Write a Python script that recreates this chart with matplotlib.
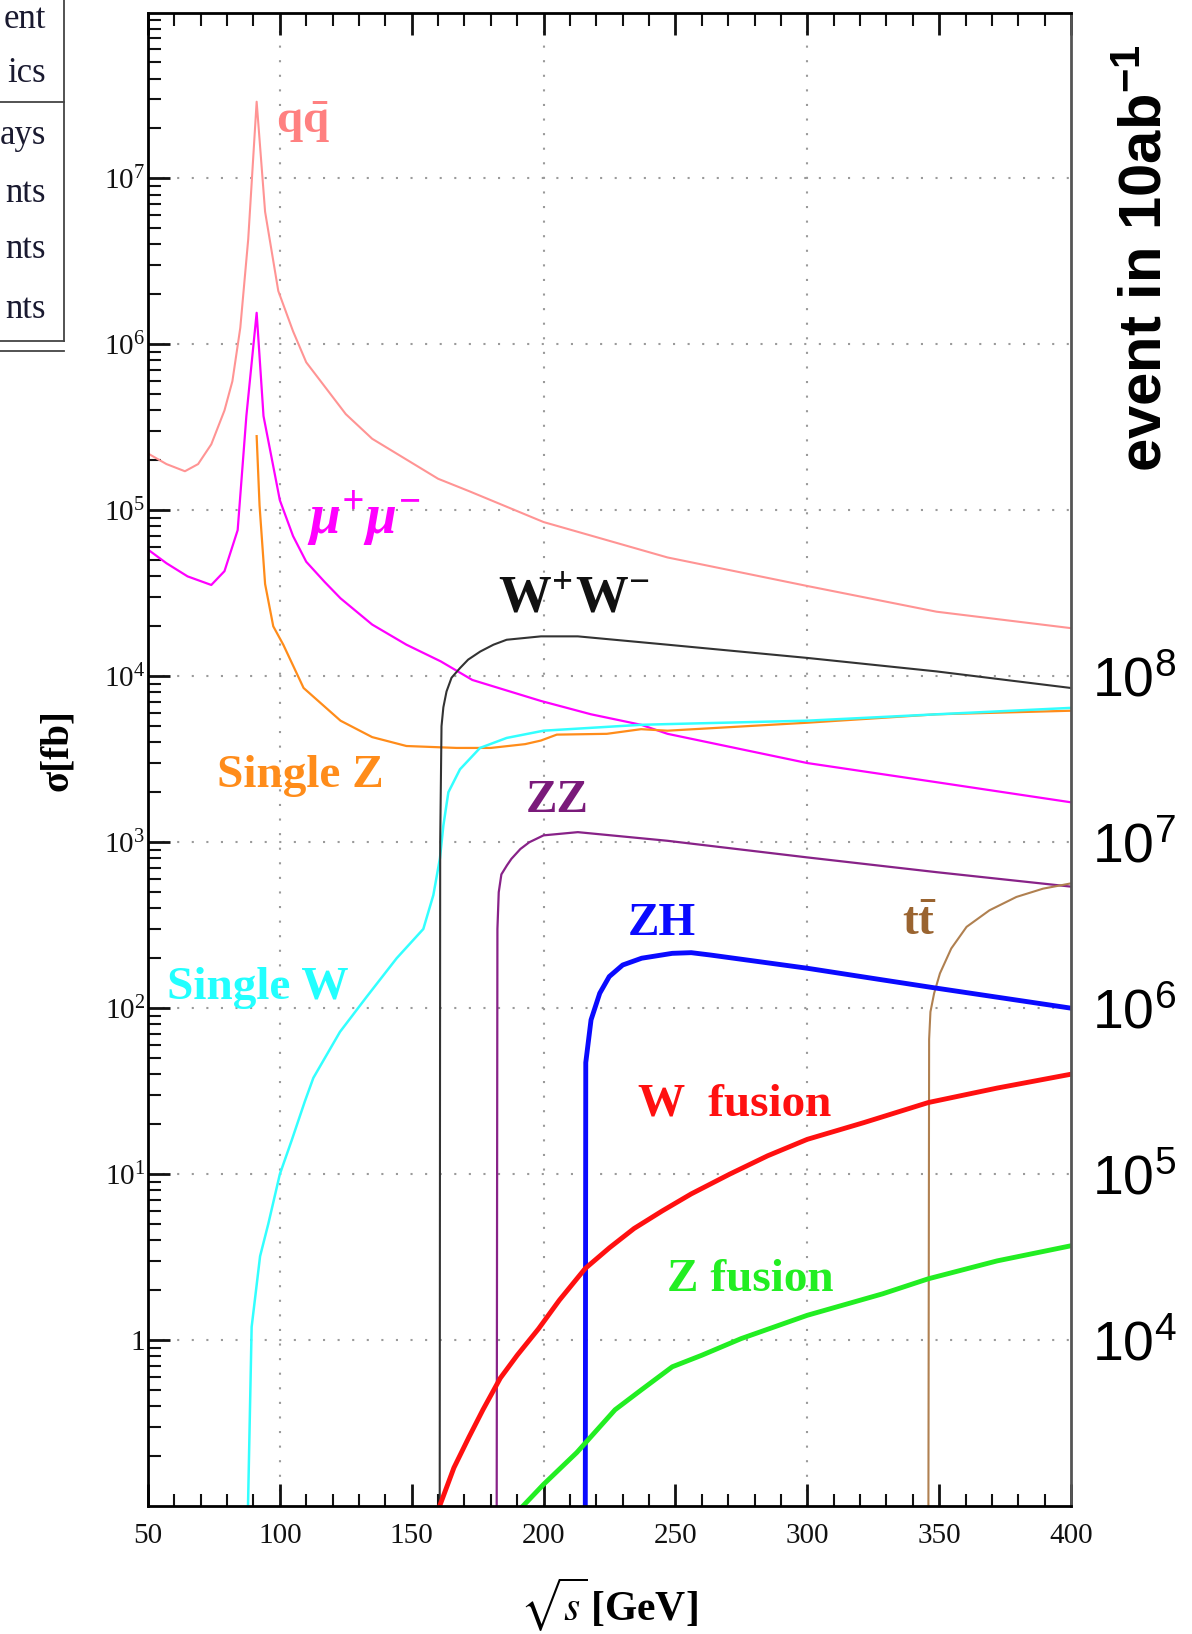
import numpy as np
import matplotlib
matplotlib.use('Agg')
import matplotlib.pyplot as plt
from matplotlib.lines import Line2D
from matplotlib.ticker import FixedLocator, NullFormatter, MultipleLocator

plt.rcParams['mathtext.fontset'] = 'stix'

# sqrt(s) in GeV, sigma in fb
qq_x = [50, 57, 64, 69, 74, 79, 82, 85, 88, 91.2, 94.4, 99.4, 105, 110, 125, 135, 160, 172, 200, 247, 300, 349, 400]
qq_y = [2.2e5, 1.9e5, 1.72e5, 1.9e5, 2.5e5, 4.0e5, 6.0e5, 1.26e6, 4.3e6, 2.9e7, 6.3e6, 2.1e6, 1.2e6, 7.8e5,
        3.8e5, 2.7e5, 1.55e5, 1.3e5, 8.5e4, 5.2e4, 3.5e4, 2.45e4, 1.95e4]

mumu_x = [50, 57, 65, 74, 79, 84, 87.3, 91.2, 93.8, 100, 105, 110, 117, 123, 135, 148, 161, 173, 199, 218, 237,
          247, 300, 349, 400]
mumu_y = [5.8e4, 4.8e4, 4.0e4, 3.55e4, 4.3e4, 7.6e4, 3.7e5, 1.55e6, 3.7e5, 1.15e5, 7.0e4, 4.9e4, 3.7e4, 2.95e4,
          2.05e4, 1.55e4, 1.23e4, 9.5e3, 7.1e3, 5.9e3, 5.1e3, 4.5e3, 3.0e3, 2.3e3, 1.74e3]

singlez_x = [91.2, 92.3, 94.4, 97.5, 101.3, 109, 123, 135, 148, 167, 180, 193, 199, 205, 224, 237, 247, 300, 349, 400]
singlez_y = [2.8e5, 1.07e5, 3.6e4, 2.0e4, 1.55e4, 8.5e3, 5.4e3, 4.3e3, 3.8e3, 3.7e3, 3.7e3, 3.9e3, 4.1e3,
             4.45e3, 4.5e3, 4.8e3, 4.7e3, 5.25e3, 5.9e3, 6.2e3]

singlew_x = [87.8, 89.3, 92.5, 95.6, 100, 104.5, 109.5, 112.7, 122.8, 132.9, 144.3, 154.4, 158.2, 160.7, 162,
             163.9, 168.3, 175.9, 186, 200, 237, 247, 300, 349, 400]
singlew_y = [0.08, 1.2, 3.2, 5.0, 10, 16, 27.5, 38, 72, 117, 200, 300, 480, 800, 1260, 2000, 2750, 3700,
             4250, 4700, 5100, 5150, 5400, 5900, 6450]

ww_x = [160.6, 160.8, 161.3, 162.0, 163.2, 165.1, 168.3, 171.4, 176, 181, 186, 199, 213, 247, 300, 349, 400]
ww_y = [0.05, 1000, 5000, 6500, 8100, 9800, 1.12e4, 1.26e4, 1.41e4, 1.55e4, 1.66e4, 1.74e4, 1.74e4, 1.55e4,
        1.29e4, 1.07e4, 8.5e3]

zz_x = [182.2, 182.5, 183, 184, 186.1, 187.8, 191.2, 194.6, 200, 213, 247, 300, 349, 400]
zz_y = [0.05, 300, 500, 640, 725, 794, 910, 1000, 1100, 1150, 1020, 810, 660, 540]

zh_x = [215.8, 216.0, 218.0, 221.3, 224.9, 230, 237.2, 248.8, 256, 263.3, 300, 328.6, 349, 400]
zh_y = [0.05, 47, 85, 123, 155, 182, 200, 214, 216, 209, 174, 148, 132, 100]

wfus_x = [160.6, 166, 171.7, 177, 183.6, 190, 198.1, 206, 215.8, 225, 234.3, 245, 256, 270.6, 285, 300, 321.3,
          345.9, 372, 400]
wfus_y = [0.1, 0.17, 0.26, 0.38, 0.59, 0.81, 1.17, 1.74, 2.7, 3.6, 4.7, 6.0, 7.6, 10, 12.9, 16.2, 20.4, 27, 33, 40]

zfus_x = [192.2, 200, 212.6, 227.1, 237, 248.8, 260, 274.9, 300, 328.6, 345.9, 372, 400]
zfus_y = [0.1, 0.135, 0.21, 0.38, 0.50, 0.69, 0.81, 1.02, 1.41, 1.9, 2.34, 3.0, 3.7]

tt_x = [345.9, 346.2, 346.7, 348.1, 350.3, 354.6, 360.4, 369.1, 379.3, 389.4, 400]
tt_y = [0.05, 65, 95, 123, 162, 229, 309, 389, 468, 525, 565]

left_ticks = [1, 10, 100, 1e3, 1e4, 1e5, 1e6, 1e7]
left_labels = ['1'] + [r'$\mathregular{10^{%d}}$' % k for k in range(1, 8)]
right_ticks = [1e4, 1e5, 1e6, 1e7, 1e8]
right_labels = [r'$\mathregular{10^{%d}}$' % k for k in range(4, 9)]
lumi = 1e4  # 10 ab^-1 in fb^-1

W, H = 1192, 1634
SERIF = 'Liberation Serif'


def fx(px):
    return px / W


def fy(py):
    return 1 - py / H


fig = plt.figure(figsize=(W / 100, H / 100), dpi=100)
ax = fig.add_axes([fx(148), fy(1506), (1071 - 148) / W, (1506 - 12.5) / H])
ax.set_yscale('log')
ax.set_xlim(50, 400)
ax.set_ylim(0.1, 1e8)

# dotted grid
for v in left_ticks:
    ax.axhline(v, color='#9a9a9a', lw=1.5, ls=(0, (1, 6)), zorder=0)
for v in [100, 200, 300]:
    ax.axvline(v, color='#9a9a9a', lw=1.5, ls=(0, (1, 6)), zorder=0)

ax.plot(qq_x, qq_y, color='#ff9494', lw=1.5)
ax.plot(mumu_x, mumu_y, color='#ff00ff', lw=1.6)
ax.plot(singlez_x, singlez_y, color='#ff8c1a', lw=1.6)
ax.plot(singlew_x, singlew_y, color='#33ffff', lw=1.8)
ax.plot(ww_x, ww_y, color='#333333', lw=1.5)
ax.plot(zz_x, zz_y, color='#882288', lw=1.6)
ax.plot(tt_x, tt_y, color='#b08050', lw=1.5)
ax.plot(zh_x, zh_y, color='#0a0aff', lw=3.5)
ax.plot(wfus_x, wfus_y, color='#ff1010', lw=3.5)
ax.plot(zfus_x, zfus_y, color='#22ee22', lw=3.5)

lab = dict(fontweight='bold', family=SERIF, va='center', ha='left')
ax.text(98.6, 10**7.34, r'q$\mathregular{\bar{q}}$', color='#ff8080', fontsize=34, **lab)
ax.text(110.4, 10**4.95, r'μ$^{\mathregular{+}}$μ$^{\mathregular{-}}$', color='#ff00ff', style='italic',
        fontsize=40, **lab)
ax.text(182.8, 10**4.46, r'W$^{\mathregular{+}}$W$^{\mathregular{-}}$', color='#111111', fontsize=38, **lab)
ax.text(76, 10**3.40, 'Single Z', color='#ff8c1a', fontsize=34, **lab)
ax.text(193.4, 10**3.25, 'ZZ', color='#7a1a7a', fontsize=34, **lab)
ax.text(57.1, 10**2.12, 'Single W', color='#22ffff', fontsize=34, **lab)
ax.text(232.1, 10**2.51, 'ZH', color='#0a0aff', fontsize=34, **lab)
ax.text(336, 10**2.51, r't$\mathregular{\bar{t}}$', color='#9a6430', fontsize=34, **lab)
ax.text(235.7, 10**1.42, 'W  fusion', color='#ff1010', fontsize=34, **lab)
ax.text(246.8, 10**0.36, 'Z fusion', color='#22ee22', fontsize=34, **lab)

ax.yaxis.set_major_locator(FixedLocator(left_ticks))
ax.set_yticklabels(left_labels, fontsize=21, family=SERIF)
ax.xaxis.set_major_locator(MultipleLocator(50))
ax.xaxis.set_minor_locator(MultipleLocator(10))
for t in ax.get_xticklabels():
    t.set_fontsize(21)
    t.set_family(SERIF)
ax.tick_params(which='both', direction='in', top=True, right=False, colors='#111111')
ax.tick_params(which='major', length=16, width=2)
ax.tick_params(which='minor', length=9, width=1.5)
ax.tick_params(axis='y', pad=2)
ax.tick_params(axis='x', pad=12)
for s in ax.spines.values():
    s.set_linewidth(2)
ax.spines['right'].set_color('#555555')

# events in 10 ab^-1 on the right
ax2 = ax.twinx()
ax2.set_yscale('log')
ax2.set_ylim(0.1 * lumi, 1e8 * lumi)
ax2.yaxis.set_major_locator(FixedLocator(right_ticks))
ax2.set_yticklabels(right_labels, fontsize=40, family='Liberation Sans')
ax2.yaxis.set_minor_locator(FixedLocator([1e4, 1e8]))
ax2.yaxis.set_minor_formatter(NullFormatter())
ax2.tick_params(which='major', length=0, pad=15)
ax2.tick_params(which='minor', direction='in', length=10, width=2, color='#2030ff')
for s in ax2.spines.values():
    s.set_visible(False)

fig.text(fx(1146), fy(258), r'event in 10ab$^{\mathregular{-1}}$', rotation=90, fontsize=43,
         fontweight='bold', family='Liberation Sans', ha='center', va='center')
fig.text(fx(57), fy(750), 'σ[fb]', rotation=90, fontsize=28, fontweight='bold', family=SERIF,
         ha='center', va='center')
fig.text(fx(609), fy(1605), r'$\sqrt{\mathit{s}}\,$[GeV]', fontsize=30, fontweight='bold', family=SERIF,
         ha='center', va='center')

# cut-off table at the top left
tcol = '#444444'
for seg in [((64, 64), (0, 341)), ((0, 64), (102, 102)), ((0, 64), (341, 341)), ((0, 64), (351, 351))]:
    fig.add_artist(Line2D([fx(p) for p in seg[0]], [fy(p) for p in seg[1]], color=tcol, lw=1.3))
for txt, yy in [('ent', 20), ('ics', 74), ('ays', 135), ('nts', 193), ('nts', 250), ('nts', 310)]:
    fig.text(fx(46), fy(yy), txt, fontsize=25, family=SERIF, color='#1a1a30', ha='right', va='center')

fig.savefig('out.png', dpi=100)
